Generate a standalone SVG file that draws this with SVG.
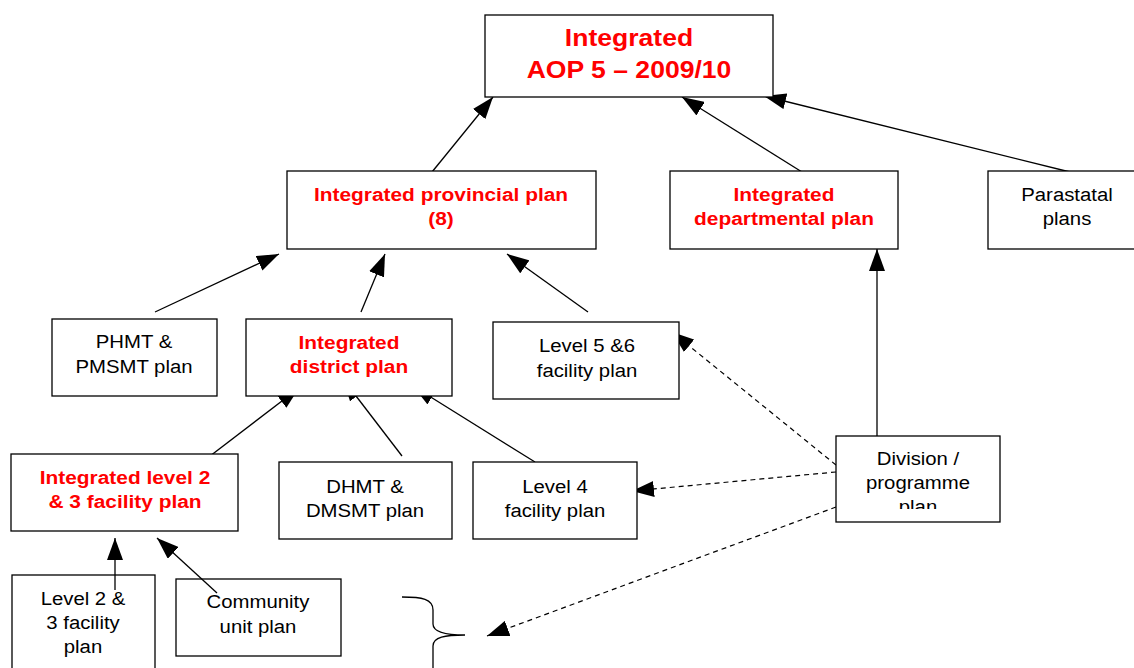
<svg xmlns="http://www.w3.org/2000/svg" width="1134" height="668" viewBox="0 0 1134 668">
<style>
.box{fill:#fff;stroke:#000;stroke-width:1.3}
text{font-family:"Liberation Sans",Arial,sans-serif;text-anchor:middle}
.r{fill:#ff0000;font-weight:bold;font-size:18.5px}
.t{fill:#ff0000;font-weight:bold;font-size:23.5px}
.b{fill:#000;font-size:18px}
.c{fill:none;stroke:#000;stroke-width:1.3}
.d{fill:none;stroke:#000;stroke-width:1.2;stroke-dasharray:5 4}
</style>
<defs>
<marker id="ah" markerUnits="userSpaceOnUse" markerWidth="22" markerHeight="16" refX="22" refY="8" orient="auto" viewBox="0 0 22 16">
<path d="M0,0 L22,8 L0,16 z" fill="#000"/>
</marker>
<clipPath id="divclip"><rect x="836" y="436" width="164" height="73"/></clipPath>
</defs>
<rect width="1134" height="668" fill="#fff"/>

<g id="connectors">
<line class="c" x1="432" y1="172" x2="493" y2="97" marker-end="url(#ah)"/>
<line class="c" x1="802" y1="172" x2="682" y2="97" marker-end="url(#ah)"/>
<line class="c" x1="1070" y1="172" x2="764" y2="96" marker-end="url(#ah)"/>
<line class="c" x1="155" y1="312" x2="279" y2="254" marker-end="url(#ah)"/>
<line class="c" x1="361" y1="312" x2="385" y2="254" marker-end="url(#ah)"/>
<line class="c" x1="588" y1="312" x2="507" y2="254" marker-end="url(#ah)"/>
<line class="c" x1="197" y1="466" x2="299" y2="388" marker-end="url(#ah)"/>
<line class="c" x1="402" y1="456" x2="343" y2="379" marker-end="url(#ah)"/>
<line class="c" x1="535" y1="462" x2="413" y2="386" marker-end="url(#ah)"/>
<line class="c" x1="877" y1="436" x2="877" y2="249" marker-end="url(#ah)"/>
<line class="d" x1="836" y1="465" x2="672" y2="332" marker-end="url(#ah)"/>
<line class="d" x1="836" y1="472" x2="632" y2="491" marker-end="url(#ah)"/>
<line class="d" x1="836" y1="507" x2="487" y2="636" marker-end="url(#ah)"/>
</g>

<g id="top">
<rect class="box" x="485" y="15" width="288" height="82"/>
<text class="t" transform="translate(629 46) scale(1.13 1)">Integrated</text>
<text class="t" transform="translate(629 78) scale(1.13 1)">AOP 5 – 2009/10</text>
</g>

<g id="provincial">
<rect class="box" x="287" y="171" width="309" height="78"/>
<text class="r" transform="translate(441 201) scale(1.13 1)">Integrated provincial plan</text>
<text class="r" transform="translate(441 225) scale(1.13 1)">(8)</text>
</g>

<g id="departmental">
<rect class="box" x="670" y="171" width="228" height="78"/>
<text class="r" transform="translate(784 201) scale(1.13 1)">Integrated</text>
<text class="r" transform="translate(784 225) scale(1.13 1)">departmental plan</text>
</g>

<g id="parastatal">
<rect class="box" x="988" y="171" width="160" height="78"/>
<text class="b" transform="translate(1067 201) scale(1.13 1)">Parastatal</text>
<text class="b" transform="translate(1067 225) scale(1.13 1)">plans</text>
</g>

<g id="phmt">
<rect class="box" x="52" y="319" width="165" height="77"/>
<text class="b" transform="translate(134 348) scale(1.13 1)">PHMT &amp;</text>
<text class="b" transform="translate(134 373) scale(1.13 1)">PMSMT plan</text>
</g>

<g id="district">
<rect class="box" x="246" y="319" width="206" height="77"/>
<text class="r" transform="translate(349 349) scale(1.13 1)">Integrated</text>
<text class="r" transform="translate(349 373) scale(1.13 1)">district plan</text>
</g>

<g id="level56">
<rect class="box" x="493" y="322" width="186" height="77"/>
<text class="b" transform="translate(587 352) scale(1.13 1)">Level 5 &amp;6</text>
<text class="b" transform="translate(587 377) scale(1.13 1)">facility plan</text>
</g>

<g id="intlevel23">
<rect class="box" x="11" y="454" width="227" height="77"/>
<text class="r" transform="translate(125 484) scale(1.13 1)">Integrated level 2</text>
<text class="r" transform="translate(125 508) scale(1.13 1)">&amp; 3 facility plan</text>
</g>

<g id="dhmt">
<rect class="box" x="279" y="462" width="173" height="77"/>
<text class="b" transform="translate(365 493) scale(1.13 1)">DHMT &amp;</text>
<text class="b" transform="translate(365 517) scale(1.13 1)">DMSMT plan</text>
</g>

<g id="level4">
<rect class="box" x="473" y="462" width="164" height="77"/>
<text class="b" transform="translate(555 493) scale(1.13 1)">Level 4</text>
<text class="b" transform="translate(555 517) scale(1.13 1)">facility plan</text>
</g>

<g id="division">
<rect class="box" x="836" y="436" width="164" height="86"/>
<g clip-path="url(#divclip)">
<text class="b" transform="translate(918 465) scale(1.13 1)">Division /</text>
<text class="b" transform="translate(918 489) scale(1.13 1)">programme</text>
<text class="b" transform="translate(918 513) scale(1.13 1)">plan</text>
</g>
</g>

<g id="level23">
<rect class="box" x="12" y="575" width="143" height="110"/>
<text class="b" transform="translate(83 605) scale(1.13 1)">Level 2 &amp;</text>
<text class="b" transform="translate(83 629) scale(1.13 1)">3 facility</text>
<text class="b" transform="translate(83 653) scale(1.13 1)">plan</text>
</g>

<g id="community">
<rect class="box" x="176" y="579" width="165" height="77"/>
<text class="b" transform="translate(258 608) scale(1.13 1)">Community</text>
<text class="b" transform="translate(258 633) scale(1.13 1)">unit plan</text>
</g>

<g id="connectors-front">
<line class="c" x1="115" y1="590" x2="115" y2="538" marker-end="url(#ah)"/>
<line class="c" x1="217" y1="593" x2="157" y2="538" marker-end="url(#ah)"/>
</g>

<g id="brace">
<path class="c" d="M402,597 C422,597 433,599 433,610 L433,624 C433,632 445,635 465,635 C445,635 433,637 433,646 L433,680"/>
</g>
</svg>
